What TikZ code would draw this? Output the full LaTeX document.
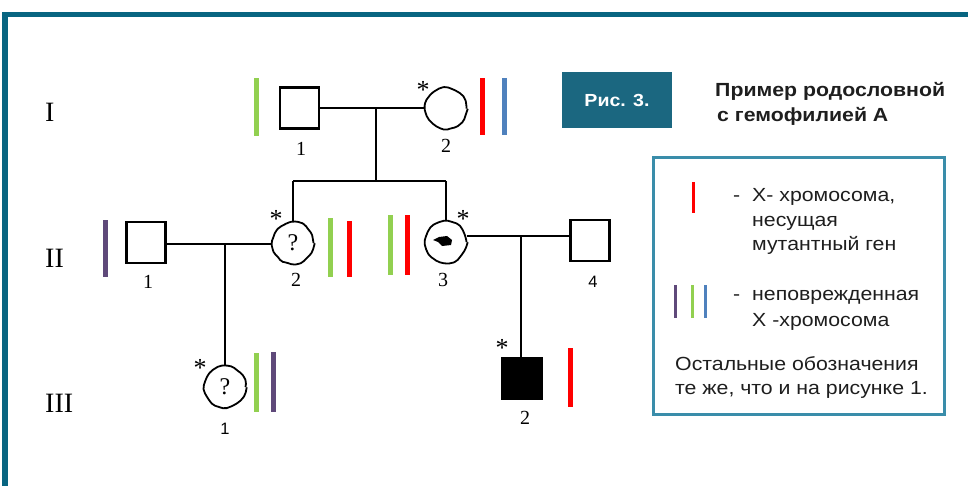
\documentclass[tikz,border=0pt]{standalone}
\usepackage{fontspec}
\setmainfont{Liberation Serif}
\newfontfamily\lsans[FakeStretch=1.12]{Liberation Sans}
\newfontfamily\lsansn{Liberation Sans}
\usetikzlibrary{decorations.pathmorphing,calc}
\definecolor{frameteal}{HTML}{086581}
\definecolor{figbox}{HTML}{1B6780}
\definecolor{legline}{HTML}{3A8DAA}
\definecolor{chgreen}{HTML}{92D050}
\definecolor{chred}{HTML}{FF0000}
\definecolor{chblue}{HTML}{4F81BD}
\definecolor{chpurple}{HTML}{5F497A}
\definecolor{txtdark}{HTML}{1E1E1E}
\tikzset{
  sq/.style={rectangle, draw, line width=2.2pt, minimum width=39pt, minimum height=41pt, inner sep=0pt},
  fem/.style={circle, draw, line width=1.8pt, minimum size=41pt, inner sep=0pt,
    decorate, decoration={random steps, segment length=5pt, amplitude=0.9pt}, rounded corners=2pt,
    font=\fontsize{24}{26}\selectfont},
  conn/.style={line width=2pt},
  num/.style={anchor=base, inner sep=0pt, font=\fontsize{20}{22}\selectfont},
  snum/.style={anchor=base, inner sep=0pt, font=\lsansn\fontsize{16.5}{18}\selectfont},
  star/.style={anchor=base, inner sep=0pt, font=\fontsize{26}{28}\selectfont},
  gen/.style={anchor=base west, inner sep=0pt, font=\fontsize{28}{30}\selectfont},
  leg/.style={anchor=base west, inner sep=0pt, text=txtdark, font=\lsans\fontsize{19}{22}\selectfont},
  ttl/.style={anchor=base west, inner sep=0pt, text=txtdark, font=\lsans\bfseries\fontsize{19}{22}\selectfont},
}
\begin{document}
\pgfmathsetseed{7}
\begin{tikzpicture}[x=1pt,y=-1pt]
\useasboundingbox (0,0) rectangle (968,486);
% frame
\fill[frameteal] (2,12) rectangle (968,17);
\fill[frameteal] (2,12) rectangle (8,486);

% generation labels
\node[gen] (gI) at (45,122) {I};
\node[gen] (gII) at (45,267) {II};
\node[gen] (gIII) at (45,412) {III};

% individuals
\node[sq] (i1) at (299.5,108) {};
\node[fem] (i2) at (446,108.5) {};
\node[sq] (ii1) at (146,242.5) {};
\node[fem] (ii2) at (293,243) {?};
\node[fem] (ii3) at (446,242) {};
\node[sq] (ii4) at (590,240.5) {};
\node[fem] (iii1) at (225,387) {?};
\node[sq, fill=black] (iii2) at (522,378.5) {};

% blob inside II-3
\fill[black] ($(ii3.center)+(-13,-2)$) -- ++(6,-3) -- ++(8,-1) -- ++(5,4) -- ++(-1,5) -- ++(-9,1) -- ++(-4,-4) -- cycle;

% numbers
\node[num] (n_i1) at (301,156) {1};
\node[num] (n_i2) at (446,153) {2};
\node[num] (n_ii1) at (148,288) {1};
\node[num] (n_ii2) at (296,286) {2};
\node[num] (n_ii3) at (443,286) {3};
\node[snum] (n_ii4) at (593,287) {4};
\node[snum] (n_iii1) at (225,434) {1};
\node[num] (n_iii2) at (525,424) {2};

% asterisks
\node[star] (s_i2) at (423,99) {*};
\node[star] (s_ii2) at (276,228) {*};
\node[star] (s_ii3) at (463,228) {*};
\node[star] (s_iii1) at (200,376) {*};
\node[star] (s_iii2) at (502,356) {*};

% connectors
\coordinate (m1) at (376,108);
\coordinate (s1) at (376,181);
\draw[conn] (i1.east) -- (i1.east -| i2.west);
\draw[conn] (m1) -- (s1);
\draw[conn] (ii2.north |- s1) -- (ii3.north |- s1);
\draw[conn] (ii2.north |- s1) -- (ii2.north);
\draw[conn] (ii3.north |- s1) -- (ii3.north);

\coordinate (m2) at (225,244);
\draw[conn] (ii1.east |- m2) -- (m2 -| ii2.west);
\draw[conn] (m2) -- (iii1.north);

\coordinate (m3) at (521,237);
\draw[conn] (ii3.15) -- (ii3.15 -| ii4.west);
\draw[conn] (m3) -- (m3 |- iii2.north);

% chromosome bars
\fill[chgreen] (254,78) rectangle (259,136);
\fill[chred] (480,78) rectangle (484.5,135);
\fill[chblue] (502,78) rectangle (506.5,135);
\fill[chpurple] (103,220) rectangle (107.5,277);
\fill[chgreen] (328,218) rectangle (333,277);
\fill[chred] (347,221) rectangle (352,277);
\fill[chgreen] (388,215) rectangle (393,275);
\fill[chred] (405,215) rectangle (410,275);
\fill[chgreen] (254,353) rectangle (259,412);
\fill[chpurple] (271,352) rectangle (276,412);
\fill[chred] (568,348) rectangle (573,407);

% figure label box
\node[rectangle, fill=figbox, minimum width=110pt, minimum height=56pt, inner sep=0pt,
  text=white, font=\lsans\bfseries\fontsize{17.5}{18}\selectfont] (fig) at (617,100) {Рис. 3.};
\node[ttl] (t1) at (715,97) {Пример родословной};
\node[ttl] (t2) at (717,122) {с гемофилией А};

% legend
\node[rectangle, draw=legline, line width=3pt, minimum width=291pt, minimum height=256pt, inner sep=0pt] (legend) at (798.5,286) {};
\fill[chred] (692,182) rectangle (695,213);
\node[leg] (l1a) at (733,202) {-};
\node[leg] (l1b) at (752,202) {Х- хромосома,};
\node[leg] (l1c) at (752,226) {несущая};
\node[leg] (l1d) at (752,251) {мутантный ген};
\fill[chpurple] (674,285) rectangle (677,318);
\fill[chgreen] (690.5,285) rectangle (693.5,318);
\fill[chblue] (704,285) rectangle (707,318);
\node[leg] (l2a) at (733,300) {-};
\node[leg] (l2b) at (752,300) {неповрежденная};
\node[leg] (l2c) at (752,326) {Х -хромосома};
\node[leg] (l3a) at (675,370) {Остальные обозначения};
\node[leg] (l3b) at (675,394) {те же, что и на рисунке 1.};
\end{tikzpicture}
\end{document}
